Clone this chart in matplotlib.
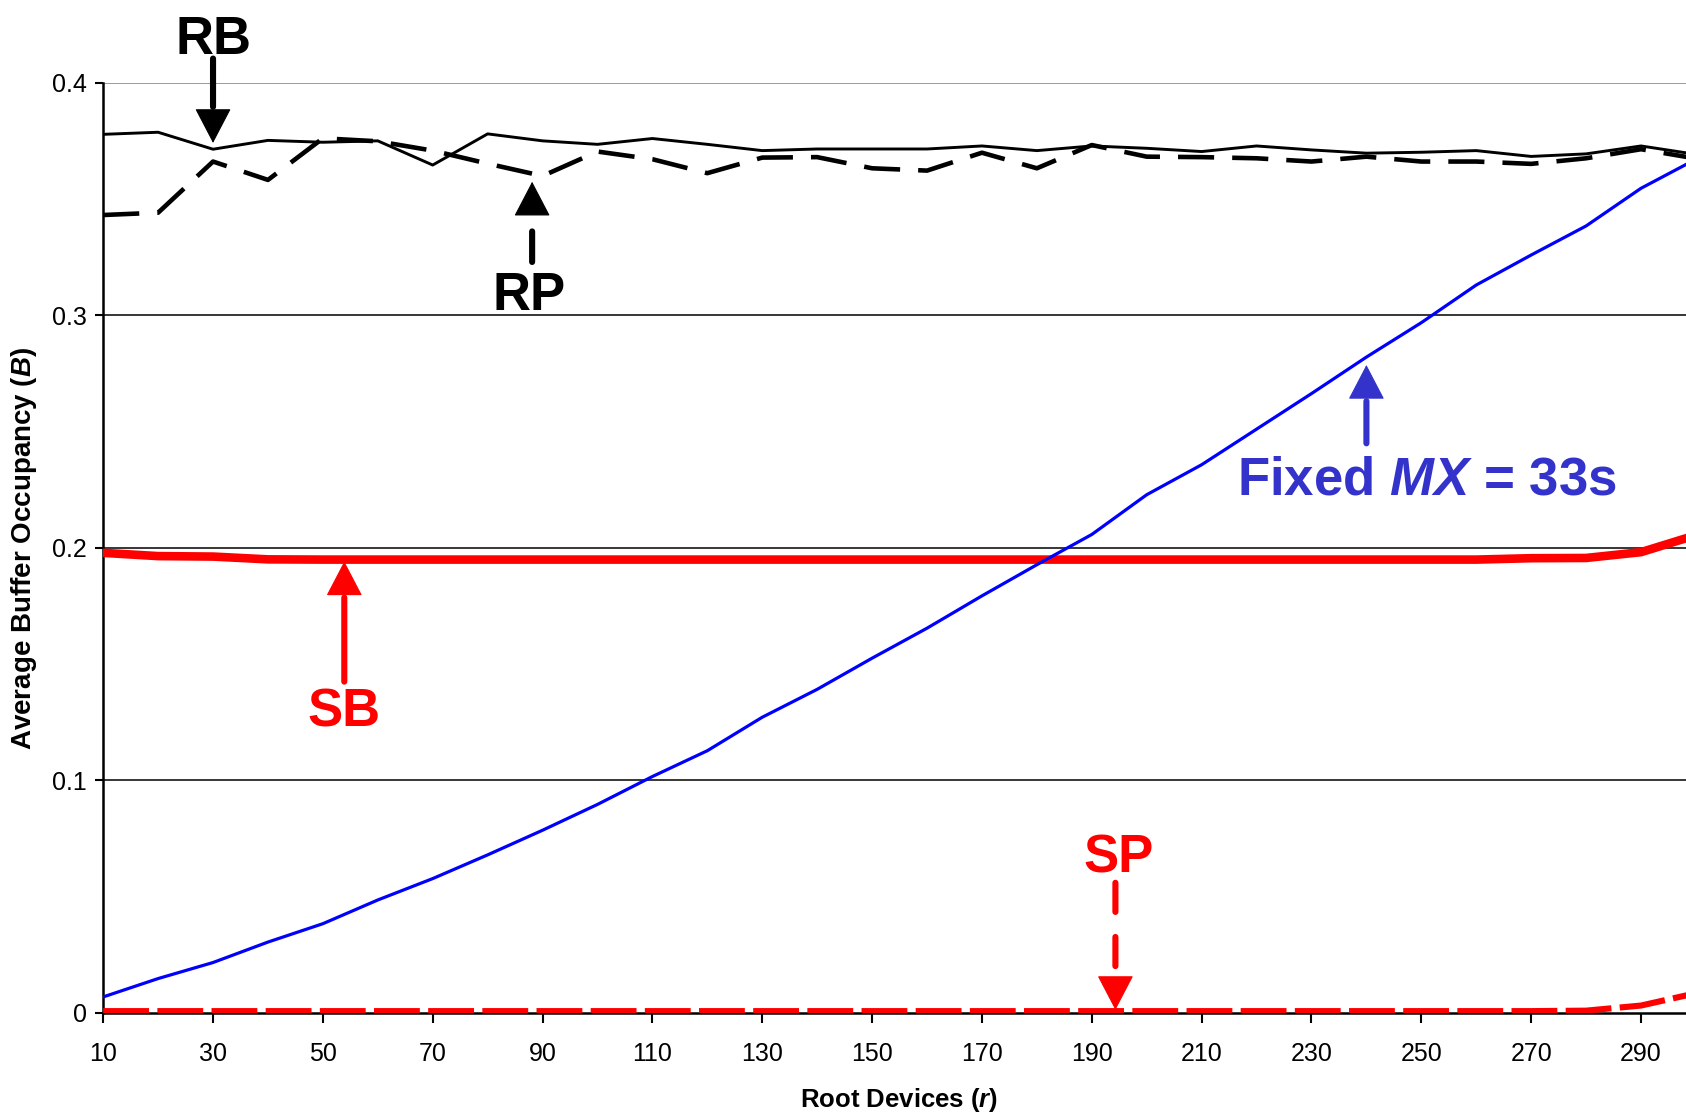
import matplotlib
matplotlib.use('Agg')
import matplotlib.pyplot as plt

plt.rcParams['font.family'] = ['Liberation Sans', 'DejaVu Sans']
plt.rcParams['mathtext.fontset'] = 'custom'
plt.rcParams['mathtext.it'] = 'Liberation Sans:italic:bold'
plt.rcParams['mathtext.rm'] = 'Liberation Sans:bold'
plt.rcParams['mathtext.bf'] = 'Liberation Sans:bold'
plt.rcParams['lines.scale_dashes'] = False

# root devices r
devices = [10, 20, 30, 40, 50, 60, 70, 80, 90, 100, 110, 120, 130, 140, 150,
           160, 170, 180, 190, 200, 210, 220, 230, 240, 250, 260, 270, 280, 290, 300]

rb = [0.3779, 0.3788, 0.3715, 0.3753, 0.3745, 0.3751, 0.3647, 0.3781, 0.3751, 0.3736,
      0.3761, 0.3736, 0.3709, 0.3716, 0.3716, 0.3716, 0.3729, 0.3709, 0.3729, 0.3719,
      0.3705, 0.3729, 0.3712, 0.3698, 0.3702, 0.3709, 0.3684, 0.3695, 0.3729, 0.3693]
rp = [0.3432, 0.3442, 0.3662, 0.3583, 0.3762, 0.3749, 0.3709, 0.3653, 0.3600, 0.3705,
      0.3672, 0.3612, 0.3679, 0.3681, 0.3633, 0.3623, 0.3700, 0.3633, 0.3733, 0.3683,
      0.3681, 0.3676, 0.3662, 0.3683, 0.3662, 0.3662, 0.3652, 0.3676, 0.3715, 0.3675]
fixed_mx = [0.0069, 0.0148, 0.0217, 0.0305, 0.0384, 0.0486, 0.0578, 0.0680, 0.0786, 0.0897,
            0.1017, 0.1128, 0.1272, 0.1392, 0.1526, 0.1655, 0.1794, 0.1928, 0.2058, 0.2229,
            0.2358, 0.2511, 0.2664, 0.2821, 0.2969, 0.3131, 0.3260, 0.3385, 0.3547, 0.3672]
sb = [0.1979, 0.1965, 0.1963, 0.1951, 0.1950, 0.1950, 0.1950, 0.1950, 0.1950, 0.1950,
      0.1950, 0.1950, 0.1950, 0.1950, 0.1950, 0.1950, 0.1950, 0.1950, 0.1950, 0.1950,
      0.1950, 0.1950, 0.1950, 0.1950, 0.1950, 0.1950, 0.1956, 0.1957, 0.1982, 0.2055]
sp = [0.0008, 0.0008, 0.0008, 0.0008, 0.0008, 0.0008, 0.0008, 0.0008, 0.0008, 0.0008,
      0.0008, 0.0008, 0.0008, 0.0008, 0.0008, 0.0008, 0.0008, 0.0008, 0.0008, 0.0008,
      0.0008, 0.0008, 0.0008, 0.0008, 0.0008, 0.0008, 0.0008, 0.0010, 0.0032, 0.0085]

x_ticks = [10, 30, 50, 70, 90, 110, 130, 150, 170, 190, 210, 230, 250, 270, 290]
y_ticks = [0, 0.1, 0.2, 0.3, 0.4]
y_tick_labels = ['0', '0.1', '0.2', '0.3', '0.4']

RED = '#ff0000'
BLUE = '#0000ff'
LABEL_BLUE = '#3333cc'

fig = plt.figure(figsize=(16.86, 11.15), dpi=100)
# plot area runs a little past the right edge of the picture
ax = fig.add_axes([0.0612, 0.0915, 0.9447, 0.8341])

for yv in y_ticks[1:]:
    ax.axhline(yv, color='#808080' if yv == 0.4 else 'black', lw=1.1, zorder=1)

ax.plot(devices, sb, color=RED, lw=6.2, solid_joinstyle='round', zorder=3)
ax.plot(devices, sp, color=RED, lw=4.4, dashes=(33, 6), zorder=3)
ax.plot(devices, fixed_mx, color=BLUE, lw=2.3, zorder=4)
ax.plot(devices, rp, color='black', lw=3.3, dashes=(26, 13), zorder=5)
ax.plot(devices, rb, color='black', lw=2.1, zorder=6)

ax.set_xlim(10, 300)
ax.set_ylim(0, 0.4)
ax.set_xticks(x_ticks)
ax.set_yticks(y_ticks)
ax.set_yticklabels(y_tick_labels)
ax.tick_params(axis='x', direction='out', length=7, width=1.5, labelsize=18, pad=14)
ax.tick_params(axis='y', direction='out', length=6, width=1.5, labelsize=18, pad=6)
for side in ['top', 'right']:
    ax.spines[side].set_visible(False)
for side in ['left', 'bottom']:
    ax.spines[side].set_linewidth(1.8)
    ax.spines[side].set_zorder(2)

ax.set_xlabel('Root Devices ($r$)', fontsize=18.5, fontweight='bold')
ax.xaxis.set_label_coords(0.5, -0.078)
ax.set_ylabel('Average Buffer Occupancy ($B$)', fontsize=20, fontweight='bold')
ax.yaxis.set_label_coords(-0.040, 0.5)

HEAD = 23  # arrow head length in points


def pointer(x, tail, tip, color, dashes=None):
    # shaft stops at the head base, head drawn solid on top
    up = tip > tail
    shaft = ax.annotate('', xy=(x, tip), xytext=(x, tail), annotation_clip=False,
                        arrowprops=dict(arrowstyle='-', color=color, lw=4.4,
                                        linestyle=(0, dashes) if dashes else '-',
                                        capstyle='round', shrinkA=0, shrinkB=HEAD + 3),
                        zorder=7)
    ax.annotate('', xy=(x, tip), xytext=(0, -HEAD if up else HEAD),
                textcoords='offset points', annotation_clip=False,
                arrowprops=dict(arrowstyle='-|>,head_length=%d,head_width=12' % HEAD,
                                mutation_scale=1, color=color, lw=0.8,
                                shrinkA=0, shrinkB=0), zorder=7)
    return shaft


big = dict(fontsize=38, fontweight='bold', ha='center', va='baseline', zorder=7)

ax.text(30, 0.4125, 'RB', color='black', clip_on=False, **big)
pointer(30, 0.4105, 0.3742, 'black')

ax.text(87.5, 0.3024, 'RP', color='black', **big)
pointer(88.1, 0.3230, 0.3575, 'black', dashes=(22, 12))

ax.text(53.9, 0.1230, 'SB', color=RED, **big)
pointer(53.9, 0.1425, 0.1942, RED)

ax.text(194.8, 0.0606, 'SP', color=RED, **big)
pointer(194.3, 0.0560, 0.0013, RED, dashes=(21, 18))

ax.text(251.0, 0.2232, 'Fixed $MX$ = 33s', color=LABEL_BLUE, **big)
pointer(240.0, 0.2450, 0.2787, LABEL_BLUE)

fig.savefig('out.png', dpi=100)
